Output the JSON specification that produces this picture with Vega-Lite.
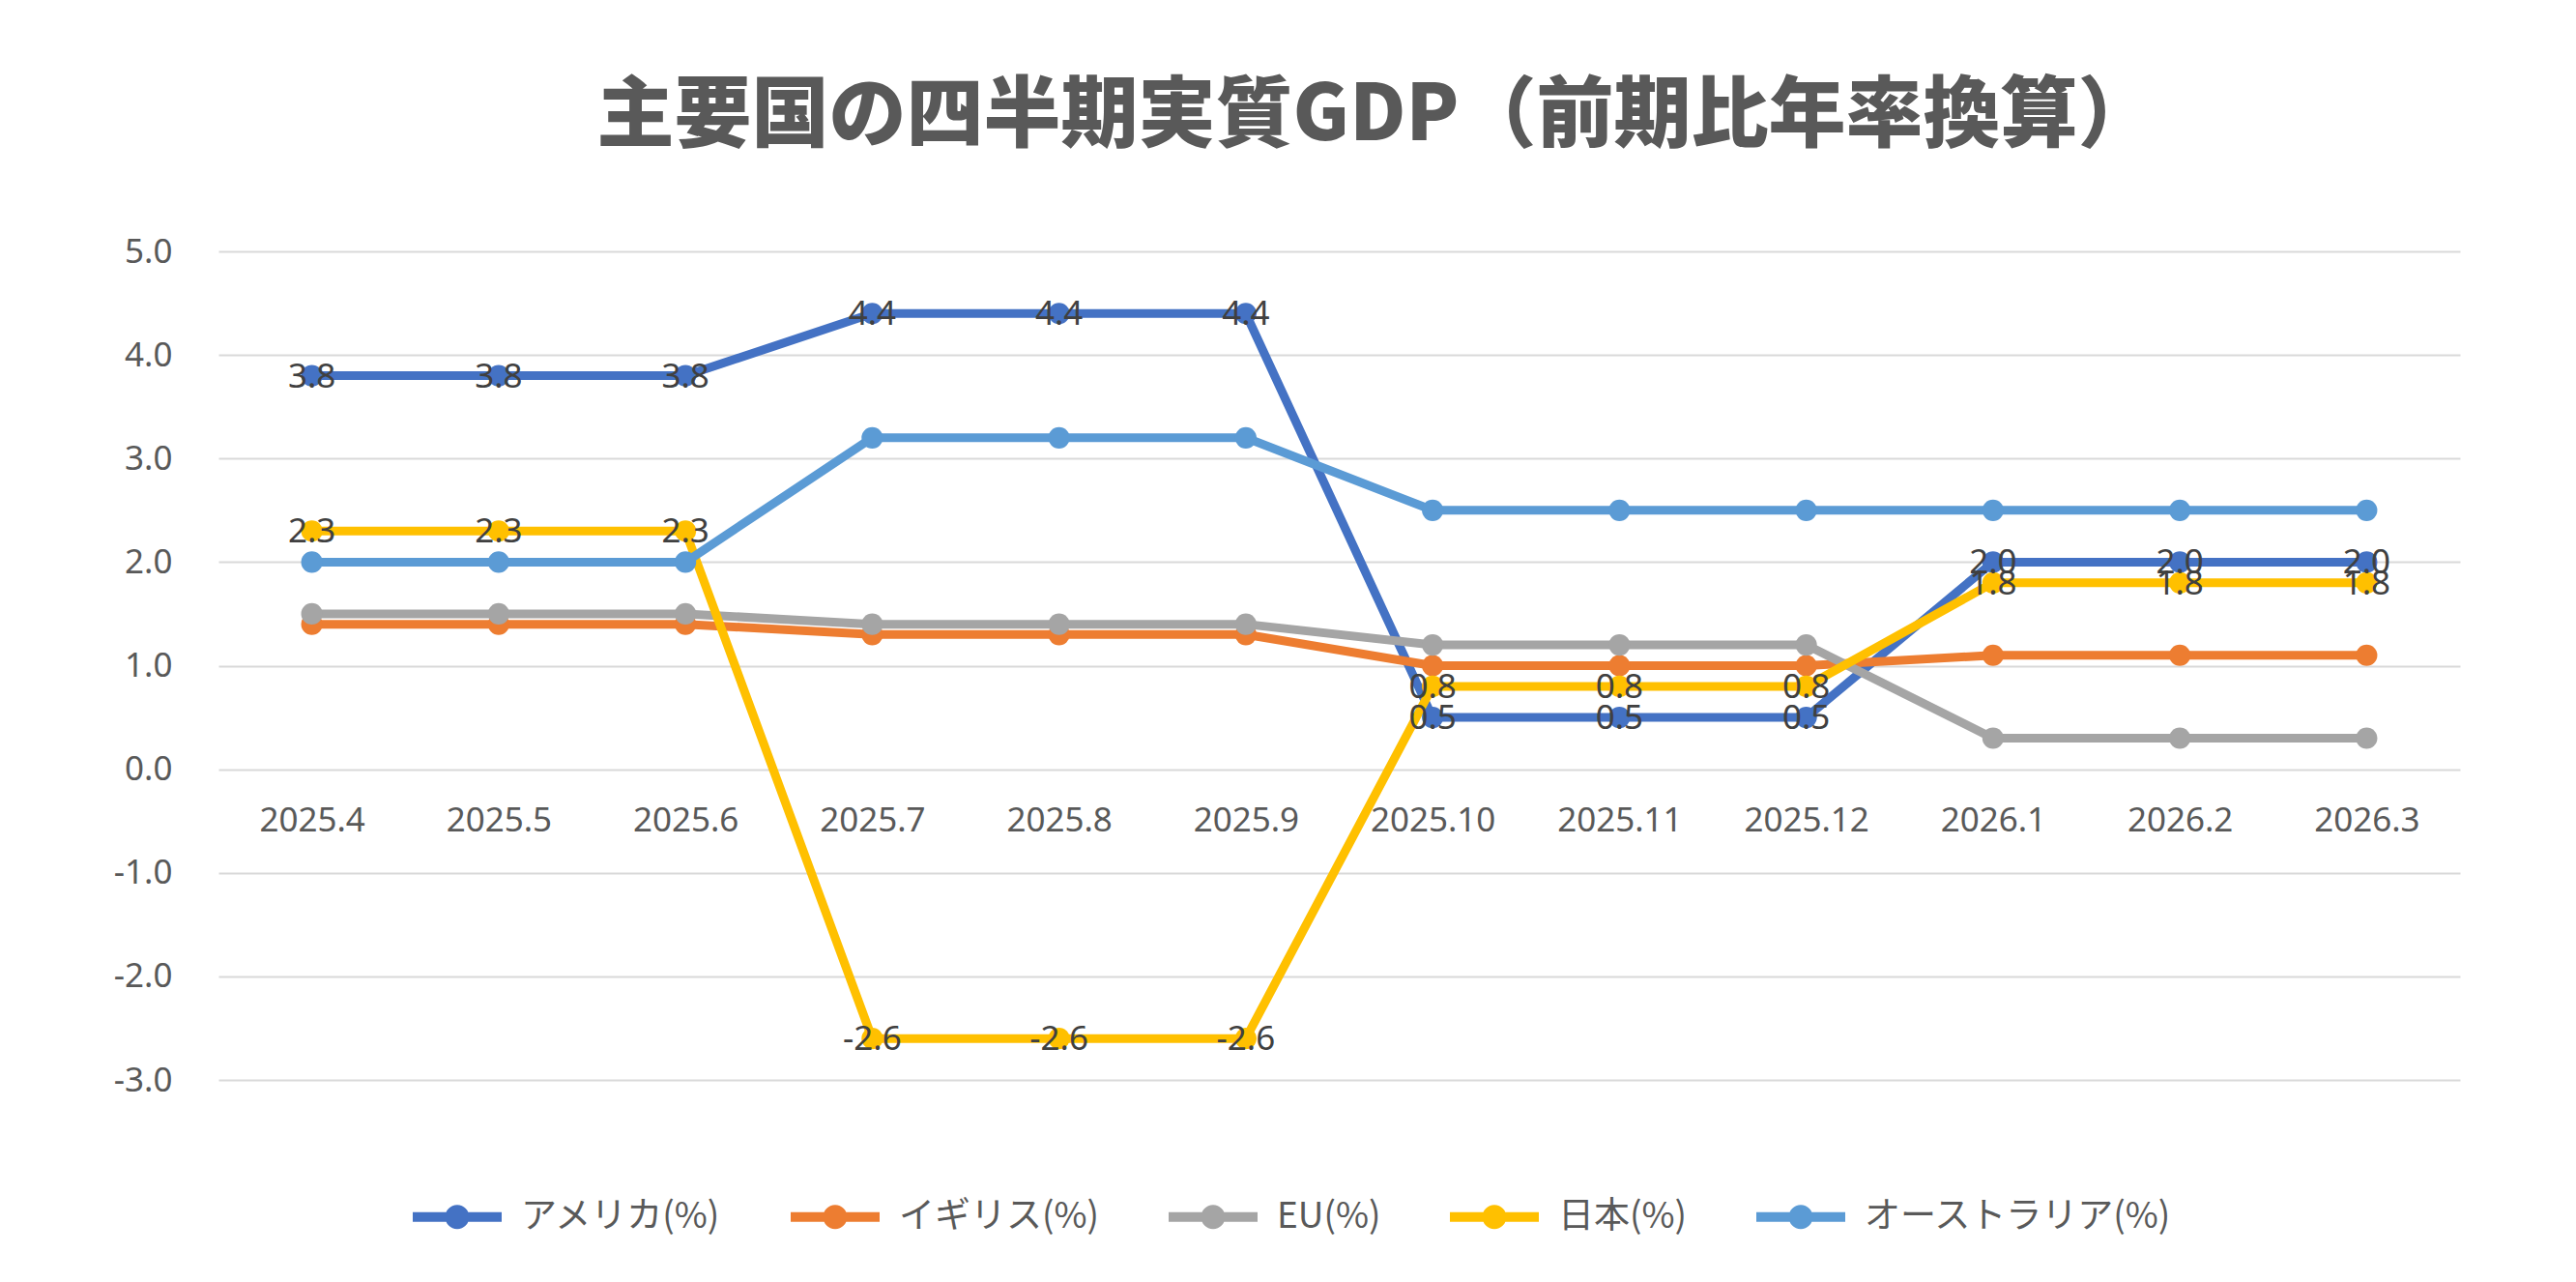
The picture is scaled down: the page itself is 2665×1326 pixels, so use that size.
{
  "$schema": "https://vega.github.io/schema/vega-lite/v6.json",
  "width": 2319,
  "height": 857,
  "autosize": {"type": "none"},
  "padding": {"left": 226, "top": 260, "right": 120, "bottom": 209},
  "background": "white",
  "title": {
    "text": "主要国の四半期実質GDP（前期比年率換算）",
    "font": "Noto Sans CJK JP",
    "fontSize": 80,
    "fontWeight": 900,
    "color": "#595959",
    "anchor": "middle",
    "frame": "group",
    "dx": 38,
    "baseline": "alphabetic",
    "offset": 18
  },
  "config": {
    "view": {"stroke": null},
    "locale": {"number": {"decimal": ".", "thousands": ",", "grouping": [3], "currency": ["", ""], "minus": "-"}}
  },
  "data": {
    "values": [
      {"period": "2025.4", "series": "アメリカ(%)", "value": 3.8},
      {"period": "2025.5", "series": "アメリカ(%)", "value": 3.8},
      {"period": "2025.6", "series": "アメリカ(%)", "value": 3.8},
      {"period": "2025.7", "series": "アメリカ(%)", "value": 4.4},
      {"period": "2025.8", "series": "アメリカ(%)", "value": 4.4},
      {"period": "2025.9", "series": "アメリカ(%)", "value": 4.4},
      {"period": "2025.10", "series": "アメリカ(%)", "value": 0.5},
      {"period": "2025.11", "series": "アメリカ(%)", "value": 0.5},
      {"period": "2025.12", "series": "アメリカ(%)", "value": 0.5},
      {"period": "2026.1", "series": "アメリカ(%)", "value": 2.0},
      {"period": "2026.2", "series": "アメリカ(%)", "value": 2.0},
      {"period": "2026.3", "series": "アメリカ(%)", "value": 2.0},

      {"period": "2025.4", "series": "イギリス(%)", "value": 1.4},
      {"period": "2025.5", "series": "イギリス(%)", "value": 1.4},
      {"period": "2025.6", "series": "イギリス(%)", "value": 1.4},
      {"period": "2025.7", "series": "イギリス(%)", "value": 1.3},
      {"period": "2025.8", "series": "イギリス(%)", "value": 1.3},
      {"period": "2025.9", "series": "イギリス(%)", "value": 1.3},
      {"period": "2025.10", "series": "イギリス(%)", "value": 1.0},
      {"period": "2025.11", "series": "イギリス(%)", "value": 1.0},
      {"period": "2025.12", "series": "イギリス(%)", "value": 1.0},
      {"period": "2026.1", "series": "イギリス(%)", "value": 1.1},
      {"period": "2026.2", "series": "イギリス(%)", "value": 1.1},
      {"period": "2026.3", "series": "イギリス(%)", "value": 1.1},

      {"period": "2025.4", "series": "EU(%)", "value": 1.5},
      {"period": "2025.5", "series": "EU(%)", "value": 1.5},
      {"period": "2025.6", "series": "EU(%)", "value": 1.5},
      {"period": "2025.7", "series": "EU(%)", "value": 1.4},
      {"period": "2025.8", "series": "EU(%)", "value": 1.4},
      {"period": "2025.9", "series": "EU(%)", "value": 1.4},
      {"period": "2025.10", "series": "EU(%)", "value": 1.2},
      {"period": "2025.11", "series": "EU(%)", "value": 1.2},
      {"period": "2025.12", "series": "EU(%)", "value": 1.2},
      {"period": "2026.1", "series": "EU(%)", "value": 0.3},
      {"period": "2026.2", "series": "EU(%)", "value": 0.3},
      {"period": "2026.3", "series": "EU(%)", "value": 0.3},

      {"period": "2025.4", "series": "日本(%)", "value": 2.3},
      {"period": "2025.5", "series": "日本(%)", "value": 2.3},
      {"period": "2025.6", "series": "日本(%)", "value": 2.3},
      {"period": "2025.7", "series": "日本(%)", "value": -2.6},
      {"period": "2025.8", "series": "日本(%)", "value": -2.6},
      {"period": "2025.9", "series": "日本(%)", "value": -2.6},
      {"period": "2025.10", "series": "日本(%)", "value": 0.8},
      {"period": "2025.11", "series": "日本(%)", "value": 0.8},
      {"period": "2025.12", "series": "日本(%)", "value": 0.8},
      {"period": "2026.1", "series": "日本(%)", "value": 1.8},
      {"period": "2026.2", "series": "日本(%)", "value": 1.8},
      {"period": "2026.3", "series": "日本(%)", "value": 1.8},

      {"period": "2025.4", "series": "オーストラリア(%)", "value": 2.0},
      {"period": "2025.5", "series": "オーストラリア(%)", "value": 2.0},
      {"period": "2025.6", "series": "オーストラリア(%)", "value": 2.0},
      {"period": "2025.7", "series": "オーストラリア(%)", "value": 3.2},
      {"period": "2025.8", "series": "オーストラリア(%)", "value": 3.2},
      {"period": "2025.9", "series": "オーストラリア(%)", "value": 3.2},
      {"period": "2025.10", "series": "オーストラリア(%)", "value": 2.5},
      {"period": "2025.11", "series": "オーストラリア(%)", "value": 2.5},
      {"period": "2025.12", "series": "オーストラリア(%)", "value": 2.5},
      {"period": "2026.1", "series": "オーストラリア(%)", "value": 2.5},
      {"period": "2026.2", "series": "オーストラリア(%)", "value": 2.5},
      {"period": "2026.3", "series": "オーストラリア(%)", "value": 2.5}
    ]
  },
  "encoding": {
    "x": {
      "field": "period",
      "type": "ordinal",
      "sort": null,
      "scale": {"type": "point", "padding": 0.5},
      "axis": {
        "title": null,
        "labelAngle": 0,
        "domain": false,
        "ticks": false,
        "tickSize": 0,
        "grid": false,
        "offset": -321.4,
        "labelPadding": 36,
        "labelFont": "Noto Sans",
        "labelFontSize": 35,
        "labelColor": "#595959"
      }
    },
    "y": {
      "field": "value",
      "type": "quantitative",
      "scale": {"domain": [-3, 5], "nice": false, "zero": false},
      "axis": {
        "title": null,
        "values": [-3, -2, -1, 0, 1, 2, 3, 4, 5],
        "format": ".1f",
        "domain": false,
        "ticks": false,
        "tickSize": 0,
        "labelPadding": 48,
        "labelFont": "Noto Sans",
        "labelFontSize": 35,
        "labelColor": "#595959",
        "gridColor": "#D9D9D9",
        "gridWidth": 2
      }
    },
    "color": {
      "field": "series",
      "type": "nominal",
      "scale": {
        "domain": ["アメリカ(%)", "イギリス(%)", "EU(%)", "日本(%)", "オーストラリア(%)"],
        "range": ["#4472C4", "#ED7D31", "#A5A5A5", "#FFC000", "#5B9BD5"]
      },
      "legend": {
        "title": null,
        "orient": "none",
        "legendX": 195,
        "legendY": 980,
        "direction": "horizontal",
        "columns": 5,
        "symbolType": "M-1,-0.4H6.36V0.4H-1Z M1.68,0A1,1 0 1,1 3.68,0A1,1 0 1,1 1.68,0Z",
        "symbolSize": 625,
        "symbolStrokeWidth": 0,
        "labelFont": "Noto Sans CJK JP",
        "labelFontSize": 37,
        "labelColor": "#595959",
        "labelOffset": 81,
        "labelLimit": 600,
        "columnPadding": 65,
        "encode": {
          "symbols": {
            "update": {
              "fill": {"scale": "color", "field": "value"},
              "stroke": {"value": "transparent"},
              "strokeWidth": {"value": 0},
              "opacity": {"value": 1}
            }
          }
        }
      }
    }
  },
  "layer": [
    {"mark": {"type": "line", "strokeWidth": 9}},
    {"mark": {"type": "point", "filled": true, "size": 490, "opacity": 1}},
    {
      "transform": [{"filter": "datum.series === 'アメリカ(%)' || datum.series === '日本(%)'"}],
      "mark": {
        "type": "text",
        "font": "Noto Sans",
        "fontSize": 35,
        "align": "center",
        "baseline": "middle",
        "dy": 1
      },
      "encoding": {
        "text": {"field": "value", "type": "quantitative", "format": ".1f"},
        "color": {"value": "#404040"}
      }
    }
  ]
}
